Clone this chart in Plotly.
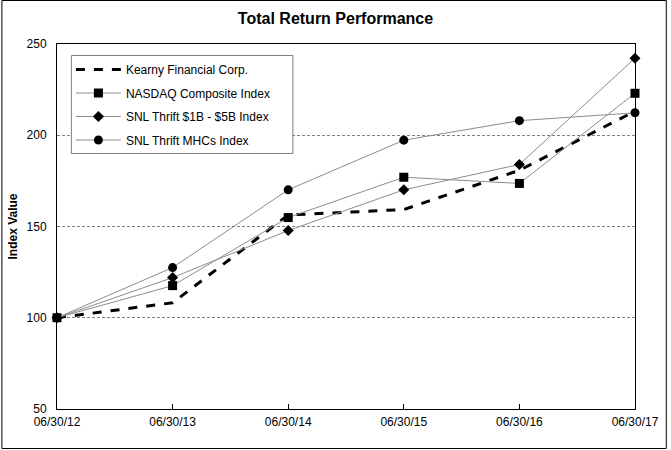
import plotly.graph_objects as go

dates = ["06/30/12", "06/30/13", "06/30/14", "06/30/15", "06/30/16", "06/30/17"]
kearny = [100, 108.2, 156.3, 159.3, 180.8, 213.2]
nasdaq = [100, 117.6, 154.9, 177.0, 173.6, 223.0]
snl_1b_5b = [100, 122.0, 147.8, 170.1, 184.0, 242.2]
snl_mhcs = [100, 127.5, 170.1, 197.3, 208.0, 212.3]

W, H = 671, 450
ml, mr, mt, mb = 56, 33, 44, 41
pw, ph = W - ml - mr, H - mt - mb

fig = go.Figure()
fig.add_trace(go.Scatter(x=dates, y=kearny, name="Kearny Financial Corp.", mode="lines",
                         line=dict(color="black", width=3, dash="dash"), legendgroup="a", cliponaxis=False))
fig.add_trace(go.Scatter(x=dates, y=nasdaq, name="NASDAQ Composite Index", mode="lines+markers",
                         line=dict(color="#8c8c8c", width=1), marker=dict(symbol="square", size=9, color="black"),
                         legendgroup="b", cliponaxis=False))
fig.add_trace(go.Scatter(x=dates, y=snl_1b_5b, name="SNL Thrift $1B - $5B Index", mode="lines+markers",
                         line=dict(color="#8c8c8c", width=1), marker=dict(symbol="diamond", size=8.5, color="black"),
                         legendgroup="c", cliponaxis=False))
fig.add_trace(go.Scatter(x=dates, y=snl_mhcs, name="SNL Thrift MHCs Index", mode="lines+markers",
                         line=dict(color="#8c8c8c", width=1), marker=dict(symbol="circle", size=9, color="black"),
                         legendgroup="d", cliponaxis=False))

fig.update_layout(
    width=W, height=H,
    margin=dict(l=ml, r=mr, t=mt, b=mb),
    paper_bgcolor="white", plot_bgcolor="white",
    font=dict(family="Liberation Sans, Arial, sans-serif", size=12, color="black"),
    title=dict(text="<b>Total Return Performance</b>", x=0.5, xanchor="center", y=1 - 18 / H, yanchor="middle",
               font=dict(size=16)),
    showlegend=True,
    legend=dict(x=(70 - ml) / pw, y=(H - mb - 55) / ph, xanchor="left", yanchor="top",
                bgcolor="rgba(0,0,0,0)", borderwidth=0,
                tracegroupgap=4.5, itemwidth=45, font=dict(size=12)),
    xaxis=dict(type="category", range=[0, 5], showline=True, linecolor="black", linewidth=1, mirror=True,
               ticks="inside", ticklen=5, tickcolor="black", showgrid=False, zeroline=False,
               ticklabelstandoff=2, tickfont=dict(size=12)),
    yaxis=dict(range=[50, 250], dtick=50, showline=True, linecolor="black", linewidth=1, mirror=True,
               ticks="", showgrid=True, gridcolor="#808080", griddash="3px,2px", gridwidth=1, zeroline=False,
               ticklabelstandoff=7,
               title=dict(text="<b>Index Value</b>", font=dict(size=12), standoff=6),
               tickfont=dict(size=12)),
)

# outer chart frame
fig.add_shape(type="rect", xref="paper", yref="paper",
              x0=-(ml - 0.5) / pw, x1=1 + (mr - 1.5) / pw,
              y0=-(mb - 1.5) / ph, y1=1 + (mt - 0.5) / ph,
              line=dict(color="black", width=1), fillcolor="rgba(0,0,0,0)", layer="below")
# legend box
fig.add_shape(type="rect", xref="paper", yref="paper",
              x0=(70.5 - ml) / pw, x1=(293.5 - ml) / pw,
              y0=(H - mb - 153.5) / ph, y1=(H - mb - 55.5) / ph,
              line=dict(color="#808080", width=1), fillcolor="white", layer="above")

fig.write_html("out.html", post_script="document.body.style.margin='0';",
               config={"displayModeBar": False})
